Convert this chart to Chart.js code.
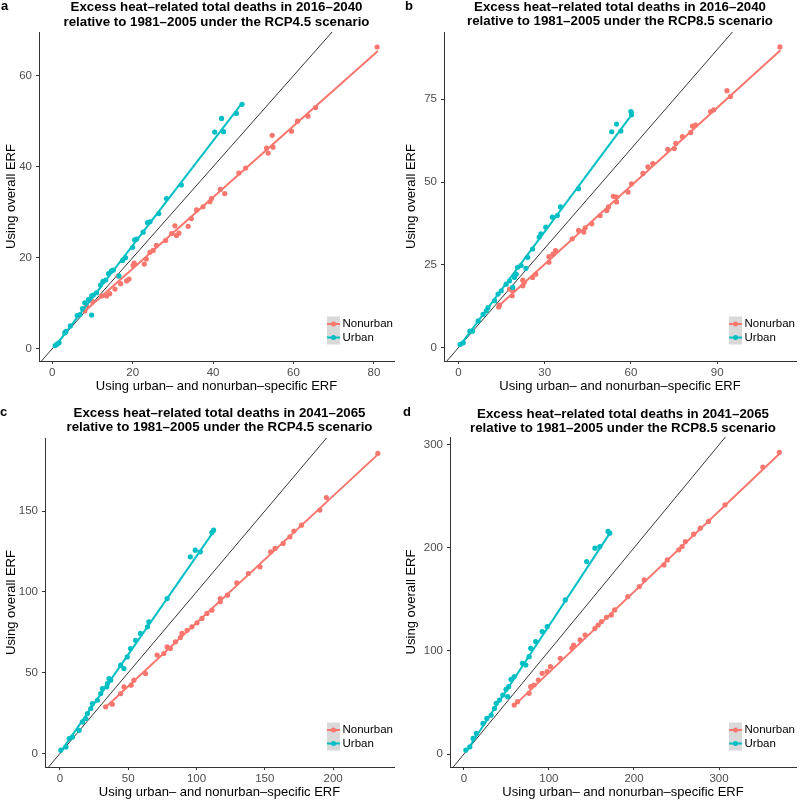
<!DOCTYPE html>
<html>
<head>
<meta charset="utf-8">
<script src="https://cdn.jsdelivr.net/npm/chart.js@4.4.0/dist/chart.umd.min.js"></script>
<style>
  body { margin:0; background:#fff; }
  #wrap { position:relative; width:800px; height:800px; }
  #wrap canvas { position:absolute; }
</style>
</head>
<body>
<div id="wrap">
  <canvas id="pa" width="400" height="400" style="left:0;top:0"></canvas>
  <canvas id="pb" width="400" height="400" style="left:400px;top:0"></canvas>
  <canvas id="pc" width="400" height="400" style="left:0;top:400px"></canvas>
  <canvas id="pd" width="400" height="400" style="left:400px;top:400px"></canvas>
</div>
<script>
// points: [specific ERF, overall ERF]
const aUrban = [[0.7,0.7],[1.2,1.0],[1.7,1.3],[3.1,3.5],[3.4,3.8],[4.5,5],[6.2,7.3],[6.9,7.5],[7.5,8.8],[8.1,10.1],
  [9,10.8],[9.8,11.6],[10.2,11.8],[9.8,7.4],[11,12.3],[12,14],[12.6,14.8],[13.3,15.1],[14,16.5],[14.7,17.1],
  [15.2,17.3],[16.6,16],[17.5,19.4],[18.2,20],[20,22.3],[20.5,23.9],[21,24.1],[22.6,25.6],[23.7,27.7],[24.3,27.9],
  [26.5,29.7],[28.4,33],[32.1,36],[40.4,47.6],[42.1,50.6],[42.6,47.7],[45.8,51.7],[47.2,53.7]];
const aNonurban = [[8.1,8.3],[8.5,9.4],[9.8,10.5],[12.3,11.6],[13.5,11.6],[14.3,12.1],[15.6,13.1],[16.4,16],[17,14.3],[18.5,14.9],
  [19.1,15.3],[20.1,18.3],[20.4,18.8],[22.9,18.6],[23.4,19.7],[24.3,21.2],[25.1,21.6],[25.9,22.7],[28.2,23.8],[29.7,25.3],
  [30.9,24.9],[30.5,27],[31.5,25.4],[33.8,26.9],[34.6,28.6],[35.9,30.5],[37.5,31.2],[39.2,32.3],[39.6,33],[41.8,35],
  [42.9,34.1],[46.4,38.6],[48.1,39.7],[53.3,44.1],[53.7,43],[54.9,44.3],[54.7,46.9],[59.5,47.8],[61,50],[63.6,51.1],
  [65.5,53],[80.8,66.3]];
const aUrbanFit = [[0.7,0.5],[47.3,54.1]];
const aNonurbanFit = [[8,8.2],[81,65.4]];
const aXTicks = [0,20,40,60,80];
const aYTicks = [0,20,40,60];

const bUrban = [[0.6,1],[1.7,1.5],[4,5],[4.9,5],[6.9,8.1],[8.6,10.1],[9.7,11.1],[10.3,12.1],[12.6,14.2],[13.8,16.2],
  [14.9,17.2],[16.6,19.2],[17.8,20.2],[18.9,18.2],[19.5,21.2],[20.1,22.2],[20.6,24.3],[21.8,24.8],[23.5,24],[24.1,27.3],
  [25.8,29.8],[28.1,33.4],[28.7,34.4],[30.4,36.4],[32.7,39.4],[34.4,39.9],[35.5,42.5],[41.8,48],[53.3,65.2],[55,67.5],
  [56.5,65.4],[60.2,70.3],[60,71.3]];
const bNonurban = [[14,12.3],[14.3,12.9],[17.8,17.7],[18.7,15.7],[18.9,17.2],[22.4,18.7],[22.4,20.4],[22.9,19.7],[25.8,21.2],[26.9,22.2],
  [31.5,25.8],[31.5,27.5],[32.9,28.3],[33.8,29.3],[39.6,32.9],[41.8,35.4],[43.6,34.9],[44.1,36.2],[46.4,37.4],[49.3,39.9],
  [51.6,41.4],[52.2,42.5],[53.9,45.7],[55,44],[55,45.5],[59,47],[60.2,49.5],[64.2,52.6],[65.9,54.6],[67.6,55.6],
  [72.8,59.9],[75.1,60.1],[75.6,61.7],[77.9,63.7],[80.8,65],[81.4,66.9],[82.5,67.2],[87.7,71.3],[88.8,71.8],[93.4,77.6],
  [94.6,75.8],[111.8,90.8]];
const bUrbanFit = [[0.6,0.7],[61,71.2]];
const bNonurbanFit = [[14,12.6],[112,89.8]];
const bXTicks = [0,30,60,90];
const bYTicks = [0,25,50,75];

const cUrban = [[0.7,2.1],[4.4,4.1],[6.8,9.3],[9.2,10.3],[14.1,14.4],[16.5,19.6],[19,21.7],[20.2,24.8],[22.6,27.9],[23.8,30.9],
  [27.5,33],[29.9,37.1],[31.1,40.2],[34.3,41.3],[34.8,43.3],[36,46.4],[37.2,45.4],[44.5,54.7],[46.9,52.6],[49.3,59.8],
  [51.7,65],[55.4,70.1],[59,74.3],[64.1,78.4],[65.1,81.5],[78.5,95.9],[95.5,121.7],[99.1,125.8],[102.8,124.8],[111.3,136.8],
  [112.5,138.2]];
const cNonurban = [[33.5,28.9],[38.4,30.5],[44.5,37.1],[46.9,41.3],[52.2,42.3],[54.2,45.4],[62.7,49.5],[71.2,60.9],[76.1,61.9],[78.5,66],
  [80.9,65],[84.6,69.1],[88.2,71.8],[89.4,74.3],[93.1,76.3],[96.7,78.4],[100.4,80.9],[104,83.6],[107.7,86.7],[111.3,88.7],
  [117.4,93.9],[117.4,95.9],[122.7,98],[129.5,105.6],[138,111.4],[146.5,115.5],[154.3,124.8],[157.5,126.9],[163.5,130],[168.4,134.1],
  [171.3,137.6],[176.9,141.3],[190.3,150.6],[195.1,158.4],[232.8,185.7]];
const cUrbanFit = [[0.7,1.2],[113.5,138.5]];
const cNonurbanFit = [[33.5,28.6],[234,186]];
const cXTicks = [0,50,100,150,200];
const cYTicks = [0,50,100,150];

const dUrban = [[2.3,3.9],[7,7.1],[10.8,15.2],[14.7,20.1],[22.5,29.8],[27.1,34.6],[32.1,37.9],[36,44.3],[38,49.2],[41.8,52.4],
  [45.7,57.3],[49.6,62.8],[51.5,55.7],[52.7,65.4],[55.4,72.5],[59.2,75.1],[68.9,88],[72.8,86.4],[76.7,94.5],[78.6,102.6],
  [84.4,109.1],[92.1,118.8],[98,123.6],[119.2,149.5],[144.4,186.7],[154.1,199.7],[159.9,201.3],[169.5,215.9],[171.5,214.2]];
const dNonurban = [[59.2,47.6],[63.1,50.8],[76.7,58.9],[78.6,65.4],[82.5,67],[87.5,71.8],[92.1,78.3],[98,79.9],[101.8,84.8],[113.4,92.9],
  [127.1,102.6],[129,105.8],[136.7,110.7],[142.5,115.5],[154.1,122],[157.9,125.2],[161.8,128.5],[167.6,132.7],[173.4,135],[177.3,139.8],
  [192.8,152.8],[206.3,162.5],[212.1,168.9],[235.3,183.5],[239.2,188.3],[252.7,198.1],[256.6,201.3],[260.5,206.1],[270.2,213.3],[277.9,219.1],
  [287.6,225.6],[307,241.7],[351.5,278.3],[370.9,292.6]];
const dUrbanFit = [[2.3,1.8],[173,216]];
const dNonurbanFit = [[59,47],[372,292]];
const dXTicks = [0,100,200,300];
const dYTicks = [0,100,200,300];

const RED = '#F8766D', CYAN = '#00BFC4';
const FONT = '"Liberation Sans", Arial, Helvetica, sans-serif';
const X_TITLE = 'Using urban– and nonurban–specific ERF';
const Y_TITLE = 'Using overall ERF';

// panel letter, two-line title and the inside legend
const panelText = {
  id: 'panelText',
  afterDraw(chart, args, o) {
    const ctx = chart.ctx, a = chart.chartArea;
    ctx.save();
    ctx.fillStyle = '#000';
    ctx.textBaseline = 'middle';
    ctx.font = `bold 13px ${FONT}`;
    ctx.textAlign = 'left';
    ctx.fillText(o.letter, o.lx, o.ly);
    ctx.font = `bold 13.3px ${FONT}`;
    ctx.textAlign = 'center';
    const cx = (a.left + a.right) / 2;
    o.title.forEach((t, i) => ctx.fillText(t, cx, o.ty[i]));

    // legend
    const kx = a.right - 67, kw = 13;
    ctx.fillStyle = '#d9d9d9';
    ctx.fillRect(kx, a.bottom - 44.5, kw, 28);
    const rows = [['Nonurban', RED, a.bottom - 37], ['Urban', CYAN, a.bottom - 23.5]];
    ctx.font = `11.5px ${FONT}`;
    ctx.textAlign = 'left';
    rows.forEach(([lab, col, y]) => {
      ctx.strokeStyle = col;
      ctx.lineWidth = 2;
      ctx.beginPath(); ctx.moveTo(kx, y); ctx.lineTo(kx + kw, y); ctx.stroke();
      ctx.fillStyle = col;
      ctx.beginPath(); ctx.arc(kx + kw / 2, y, 2.5, 0, Math.PI * 2); ctx.fill();
      ctx.fillStyle = '#000';
      ctx.fillText(lab, kx + kw + 2.5, y);
    });
    ctx.restore();
  }
};

const pts = (d, col) => ({ type:'scatter', data:d.map(([x, y]) => ({x, y})), backgroundColor:col, borderWidth:0, pointRadius:2.6 });
const fit = (d, col) => ({ type:'line', data:d.map(([x, y]) => ({x, y})), borderColor:col, borderWidth:2, pointRadius:0 });

function panel(id, p) {
  const [L, T, R, B] = p.area;
  // x title centre sits ~25.5px under the axis line
  const xTitlePad = Math.max(0, 400 - (B + 25.5) - 7.8);
  new Chart(document.getElementById(id), {
    type: 'scatter',
    data: {
      datasets: [
        fit(p.urbFit, CYAN), fit(p.nonFit, RED),
        pts(p.urb, CYAN), pts(p.non, RED),
        { type:'line', data:[{x:-100, y:-100}, {x:1000, y:1000}], borderColor:'#000', borderWidth:0.8, pointRadius:0 }
      ]
    },
    options: {
      responsive: false,
      animation: false,
      layout: { padding: { left:0, top:T, right:400 - R, bottom:0 } },
      plugins: {
        legend: { display:false },
        tooltip: { enabled:false },
        panelText: { letter:p.letter, lx:p.lx, ly:p.ly, title:p.title, ty:p.ty }
      },
      scales: {
        x: {
          type: 'linear', min:p.x[0], max:p.x[1],
          afterBuildTicks: s => { s.ticks = p.xt.map(v => ({value:v})); },
          afterFit: s => { s.height = 400 - B; },
          border: { display:true, color:'#333', width:1 },
          grid: { drawOnChartArea:false, drawTicks:true, tickLength:3, color:'#333' },
          ticks: { color:'#4d4d4d', font:{ family:FONT, size:11.5 }, padding:2, maxRotation:0 },
          title: { display:true, text:X_TITLE, color:'#000', font:{ family:FONT, size:13 }, padding:{ top:0, bottom:xTitlePad } }
        },
        y: {
          type: 'linear', min:p.y[0], max:p.y[1],
          afterBuildTicks: s => { s.ticks = p.yt.map(v => ({value:v})); },
          afterFit: s => { s.width = L; },
          border: { display:true, color:'#333', width:1 },
          grid: { drawOnChartArea:false, drawTicks:true, tickLength:3, color:'#333' },
          ticks: { color:'#4d4d4d', font:{ family:FONT, size:11.5 }, padding:4 },
          title: { display:true, text:Y_TITLE, color:'#000', font:{ family:FONT, size:13 }, padding:{ top:4, bottom:0 } }
        }
      }
    },
    plugins: [panelText]
  });
}

panel('pa', { letter:'a', lx:1, ly:6, ty:[7.5, 22],
  title:['Excess heat–related total deaths in 2016–2040', 'relative to 1981–2005 under the RCP4.5 scenario'],
  area:[39, 32, 394, 361], x:[-3.3, 85], y:[-2.7, 69.6], xt:aXTicks, yt:aYTicks,
  urb:aUrban, non:aNonurban, urbFit:aUrbanFit, nonFit:aNonurbanFit });

panel('pb', { letter:'b', lx:5, ly:6, ty:[7, 21],
  title:['Excess heat–related total deaths in 2016–2040', 'relative to 1981–2005 under the RCP8.5 scenario'],
  area:[44, 32, 398, 361], x:[-5, 117.4], y:[-4, 95.3], xt:bXTicks, yt:bYTicks,
  urb:bUrban, non:bNonurban, urbFit:bUrbanFit, nonFit:bNonurbanFit });

panel('pc', { letter:'c', lx:0, ly:12, ty:[13.5, 27.5],
  title:['Excess heat–related total deaths in 2041–2065', 'relative to 1981–2005 under the RCP4.5 scenario'],
  area:[45, 38, 394, 367], x:[-10.9, 244.6], y:[-8.3, 195.2], xt:cXTicks, yt:cYTicks,
  urb:cUrban, non:cNonurban, urbFit:cUrbanFit, nonFit:cNonurbanFit });

panel('pd', { letter:'d', lx:3, ly:12, ty:[14, 28],
  title:['Excess heat–related total deaths in 2041–2065', 'relative to 1981–2005 under the RCP8.5 scenario'],
  area:[50, 37, 399, 367], x:[-16.3, 390.5], y:[-12.5, 307.5], xt:dXTicks, yt:dYTicks,
  urb:dUrban, non:dNonurban, urbFit:dUrbanFit, nonFit:dNonurbanFit });
</script>
</body>
</html>
